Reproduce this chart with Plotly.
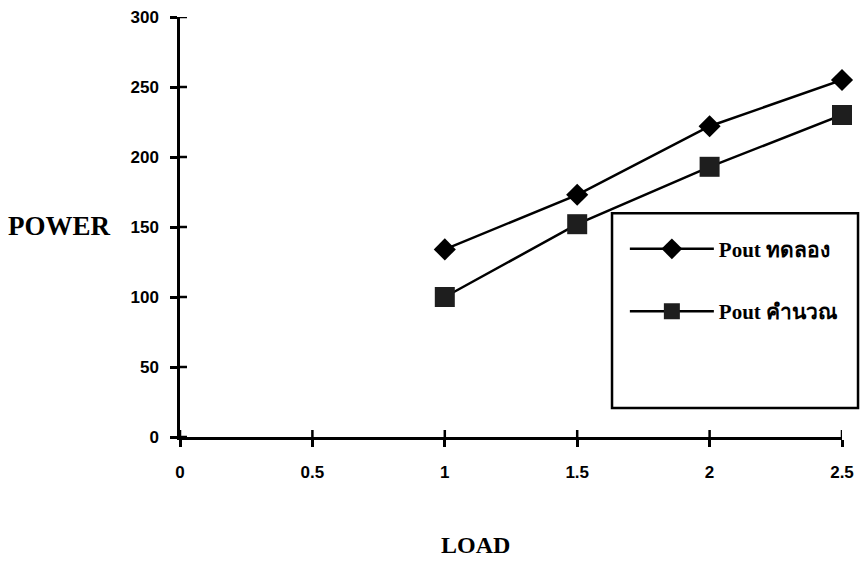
import plotly.graph_objects as go

# Load vs output power
load = [1, 1.5, 2, 2.5]
pout_test = [134, 173, 222, 255]      # Pout ทดลอง (measured)
pout_calc = [100, 152, 193, 230]      # Pout คำนวณ (calculated)

x_ticks = [0, 0.5, 1, 1.5, 2, 2.5]
x_tick_text = ["0", "0.5", "1", "1.5", "2", "2.5"]
y_ticks = [0, 50, 100, 150, 200, 250, 300]

fig = go.Figure()
fig.add_trace(go.Scatter(
    x=load, y=pout_test, name="Pout ทดลอง", mode="lines+markers",
    line=dict(color="black", width=2.5),
    marker=dict(symbol="diamond", size=17, color="black"),
    legendgroup="a", cliponaxis=False,
))
fig.add_trace(go.Scatter(
    x=load, y=pout_calc, name="Pout คำนวณ", mode="lines+markers",
    line=dict(color="black", width=2.5),
    marker=dict(symbol="square", size=20, color="#1e1e1e"),
    legendgroup="b", cliponaxis=False,
))

label_font = dict(family="Liberation Sans", size=17, color="black", weight="bold")
axis_common = dict(showgrid=False, zeroline=False, showline=True,
                   linecolor="black", linewidth=2.5,
                   ticks="outside", ticklen=7, tickwidth=2.5, tickcolor="black")

fig.update_layout(
    width=860, height=561,
    margin=dict(l=180, r=18, t=17, b=124, autoexpand=False),
    paper_bgcolor="white", plot_bgcolor="white",
    xaxis=dict(range=[0, 2.5], tickvals=x_ticks, ticktext=x_tick_text,
               tickfont=label_font, ticklabelstandoff=11, **axis_common),
    yaxis=dict(range=[0, 300], tickvals=y_ticks,
               tickfont=label_font, ticklabelstandoff=8, **axis_common),
    showlegend=True,
    legend=dict(x=0.672, y=0.496, xanchor="left", yanchor="top",
                bgcolor="rgba(0,0,0,0)", borderwidth=0,
                itemwidth=84, tracegroupgap=32,
                font=dict(family="Liberation Serif", size=21, color="black", weight="bold")),
)

# tick marks cross the axis lines: add the inner half of each tick
for xv in x_ticks:
    fig.add_shape(type="line", xref="x", yref="y", ysizemode="pixel", yanchor=0,
                  x0=xv, x1=xv, y0=0, y1=7, line=dict(color="black", width=2.5))
for yv in y_ticks:
    fig.add_shape(type="line", xref="x", yref="y", xsizemode="pixel", xanchor=0,
                  x0=0, x1=7, y0=yv, y1=yv, line=dict(color="black", width=2.5))

# legend frame
fig.add_shape(type="rect", xref="paper", yref="paper",
              x0=0.6526, x1=1.0242, y0=0.069, y1=0.533,
              line=dict(color="black", width=2.5), fillcolor="white", layer="below")

fig.add_annotation(text="POWER", xref="paper", yref="paper", x=-0.101, y=0.502,
                   xanchor="right", yanchor="middle", showarrow=False,
                   font=dict(family="Liberation Serif", size=27, color="black", weight="bold"))
fig.add_annotation(text="LOAD", xref="paper", yref="paper", x=0.446, y=-0.257,
                   xanchor="center", yanchor="middle", showarrow=False,
                   font=dict(family="Liberation Serif", size=24, color="black", weight="bold"))

fig.write_html("out.html")
